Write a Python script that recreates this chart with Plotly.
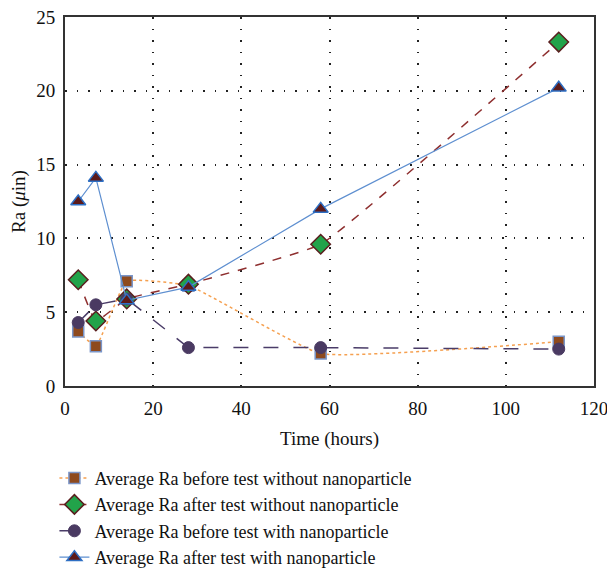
import plotly.graph_objects as go

time_h = [3, 7, 14, 28, 58, 112]
before_without = [3.7, 2.7, 7.1, 6.8, 2.2, 3.0]
after_without = [7.2, 4.4, 5.9, 6.9, 9.6, 23.3]
before_with = [4.3, 5.5, 5.9, 2.6, 2.6, 2.5]
after_with = [12.5, 14.1, 5.8, 6.7, 12.0, 20.2]

names = [
    "Average Ra before test without nanoparticle",
    "Average Ra after test without nanoparticle",
    "Average Ra before test with nanoparticle",
    "Average Ra after test with nanoparticle",
]

FONT = "Liberation Serif"
FS = 19
fig = go.Figure()
fig.add_trace(go.Scatter(
    x=time_h, y=before_without, name=names[0], mode="lines+markers",
    line=dict(color="#F5A050", width=1.5, dash="dot", shape="spline", smoothing=0.35),
    marker=dict(symbol="square", size=11, color="#8E4A1E", line=dict(color="#7A95C8", width=1.5)),
))
fig.add_trace(go.Scatter(
    x=time_h, y=after_without, name=names[1], mode="lines+markers",
    line=dict(color="#8E2F2F", width=1.5, dash="dash", shape="spline", smoothing=0.3),
    marker=dict(symbol="diamond", size=15, color="#22A34A", line=dict(color="#5A1E1E", width=1.5)),
))
fig.add_trace(go.Scatter(
    x=time_h, y=before_with, name=names[2], mode="lines+markers",
    line=dict(color="#4A3C68", width=1.5, dash="longdash"),
    marker=dict(symbol="circle", size=12, color="#4A3A62", line=dict(color="#4A3A62", width=1)),
))
fig.add_trace(go.Scatter(
    x=time_h, y=after_with, name=names[3], mode="lines+markers",
    line=dict(color="#5E8FD0", width=1.2),
    marker=dict(symbol="triangle-up", size=13, color="#5C1A1A", line=dict(color="#2E6FC4", width=1.5)),
))

axis_common = dict(
    showline=True, linecolor="#333333", linewidth=2, mirror=True,
    showgrid=True, gridcolor="#222222", griddash="1.5px,10px", gridwidth=1.5,
    zeroline=False, ticks="", tickfont=dict(family=FONT, size=FS, color="#111"),
    automargin=False,
)
fig.update_xaxes(range=[0, 120], dtick=20, ticklabelstandoff=4, ticklabeloverflow="allow",
                 title=dict(text="Time (hours)", font=dict(family=FONT, size=FS, color="#111"), standoff=14), **axis_common)
fig.update_yaxes(range=[0, 25], dtick=5, ticklabelstandoff=4,
                 title=dict(text="Ra (<i>μ</i>in)", font=dict(family=FONT, size=FS, color="#111"), standoff=6), **axis_common)

fig.update_layout(
    width=607, height=573,
    margin=dict(l=65, r=13, t=17, b=187, autoexpand=False),
    plot_bgcolor="white", paper_bgcolor="white",
    font=dict(family=FONT, size=FS, color="#111"),
    legend=dict(x=-0.02, y=-0.2, xanchor="left", yanchor="top", orientation="v",
                font=dict(family=FONT, size=18, color="#111"), tracegroupgap=0,
                bgcolor="rgba(0,0,0,0)"),
)
fig.write_html("out.html")
